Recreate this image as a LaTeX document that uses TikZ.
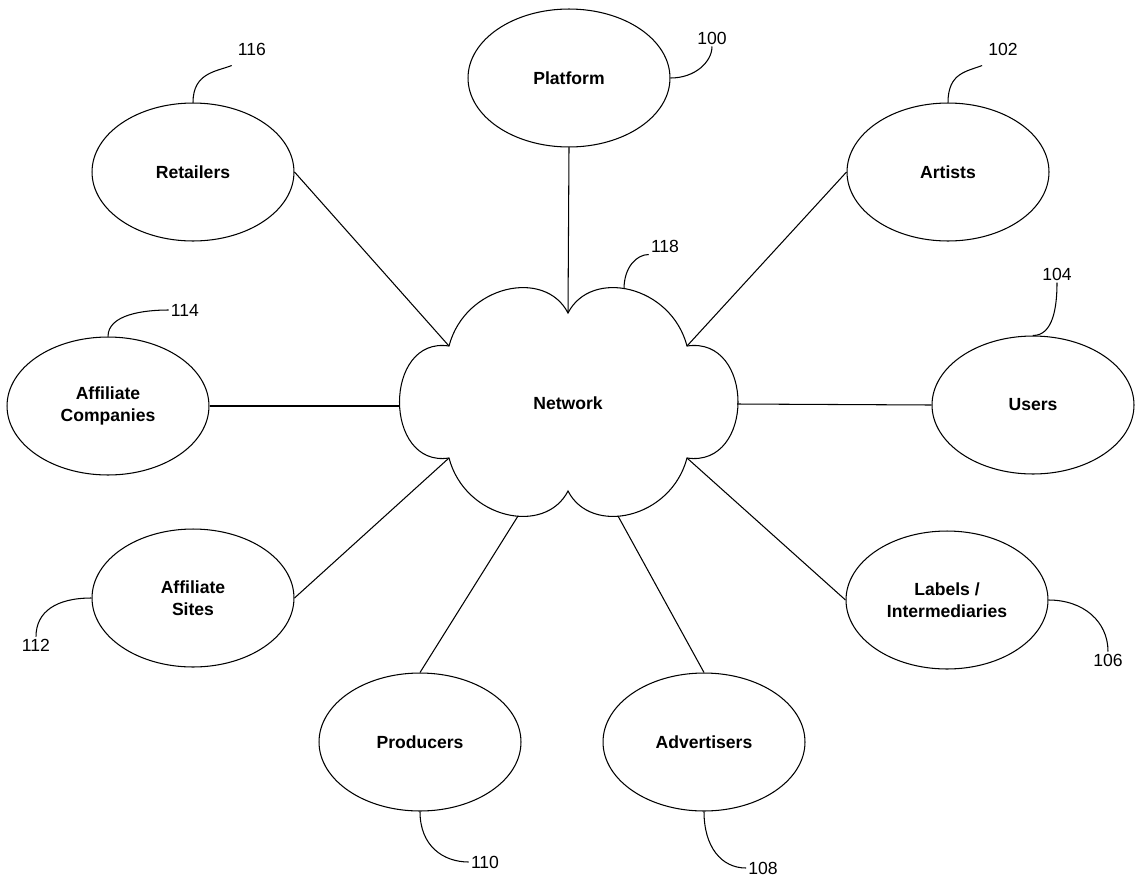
\documentclass[tikz,border=0pt]{standalone}
\usepackage{fontspec}
\setmainfont{Liberation Sans}
\usetikzlibrary{shapes.geometric}
\begin{document}
\begin{tikzpicture}[x=0.02cm,y=-0.02cm,line width=0.6pt,
  party/.style={draw,ellipse,minimum width=4.04cm,minimum height=2.76cm,align=center,
    font=\bfseries\fontsize{10}{12.5}\selectfont},
  refnum/.style={inner sep=1pt,font=\fontsize{10}{12}\selectfont}]
\useasboundingbox (0,0) rectangle (1139,876);
% cloud
\coordinate (c1) at (449,346);
\coordinate (c2) at (568,313);
\coordinate (c3) at (687,346);
\coordinate (c4) at (687,458);
\coordinate (c5) at (568,491);
\coordinate (c6) at (449,458);
\coordinate (cl) at (400,406);
\coordinate (cr) at (737,404);
\coordinate (cb1) at (518,516);
\coordinate (cb2) at (618,516);
\coordinate (c118) at (624,289);
\draw (c6) .. controls (383,468) and (383,336) .. (c1)
  .. controls (465,285) and (545,268) .. (c2)
  .. controls (591,268) and (671,285) .. (c3)
  .. controls (755,336) and (755,468) .. (c4)
  .. controls (671,519) and (591,536) .. (c5)
  .. controls (545,536) and (465,519) .. (c6) -- cycle;
\node[font=\bfseries\fontsize{10}{12}\selectfont] (net) at (568,403) {Network};
% parties
\node[party] (plat) at (569,78) {Platform};
\node[party] (retail) at (193,172) {Retailers};
\node[party] (art) at (948,172) {Artists};
\node[party] (affc) at (108,406) {Affiliate\\Companies};
\node[party] (users) at (1033,405) {Users};
\node[party] (sites) at (193,598) {Affiliate\\Sites};
\node[party] (labels) at (947,600) {Labels /\\Intermediaries};
\node[party] (prod) at (420,742) {Producers};
\node[party] (adv) at (704,742) {Advertisers};
\draw (plat.south) -- (c2);
\draw (retail.east) -- (c1);
\draw (art.west) -- (c3);
\draw (affc.east) -- (cl);
\draw (users.west) -- (cr);
\draw (sites.east) -- (c6);
\draw (labels.west) -- (c4);
\draw (prod.north) -- (cb1);
\draw (adv.north) -- (cb2);
% reference numbers
\node[refnum] (n100) at (712,38) {100};
\node[refnum] (n102) at (1003,49) {102};
\node[refnum] (n104) at (1057,274) {104};
\node[refnum] (n106) at (1108,660) {106};
\node[refnum] (n108) at (763,868) {108};
\node[refnum] (n110) at (485,862) {110};
\node[refnum] (n112) at (36,645) {112};
\node[refnum] (n114) at (185,310) {114};
\node[refnum] (n116) at (252,49) {116};
\node[refnum] (n118) at (665,246) {118};
\draw (plat.east) .. controls +(25,0) and +(0,15) .. (n100.south);
\draw (art.north) .. controls +(0,-30) and +(-15,6) .. ([xshift=-0.08cm,yshift=-0.16cm]n102.south west);
\draw (users.north) .. controls +(20,0) and +(0,25) .. (n104.south);
\draw (labels.east) .. controls +(35,0) and +(0,-30) .. (n106.north);
\draw (adv.south) .. controls +(0,35) and +(-25,0) .. (n108.west);
\draw (prod.south) .. controls +(0,35) and +(-25,0) .. (n110.west);
\draw (sites.west) .. controls +(-35,0) and +(0,-25) .. (n112.north);
\draw (affc.north) .. controls +(0,-22) and +(-25,0) .. (n114.west);
\draw (retail.north) .. controls +(0,-30) and +(-15,6) .. ([xshift=-0.08cm,yshift=-0.16cm]n116.south west);
\draw (c118) .. controls +(0,-22) and +(-12,0) .. (n118.south west);
\end{tikzpicture}
\end{document}
